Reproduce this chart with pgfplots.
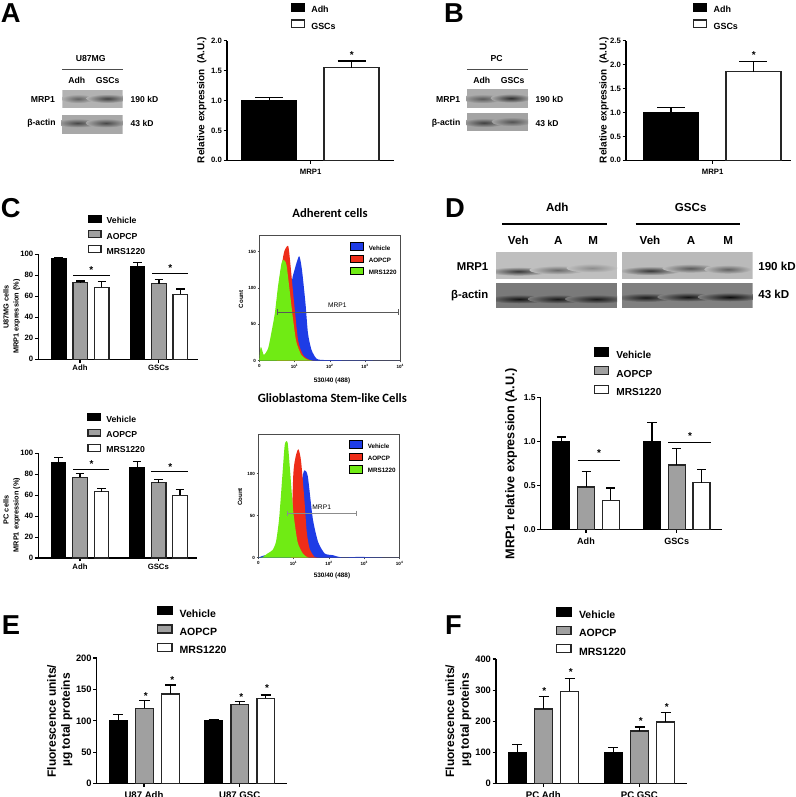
\documentclass[border=0pt]{standalone}
\usepackage{pgfplots}
\pgfplotsset{compat=1.18}
\usepackage{fontspec}
\setmainfont{Liberation Sans}
\newfontfamily\carl{Carlito}
\newcommand\fs[1]{\fontsize{#1}{#1}\selectfont}
\newcommand\bfs[1]{\bfseries\fontsize{#1}{#1}\selectfont}
\newcommand\setax[4]{\def\axL{#1}\def\axR{#2}\def\axT{#3}\def\axB{#4}%
  \pgfmathsetmacro\axW{(#2-#1)*0.75}\pgfmathsetmacro\axH{(#4-#3)*0.75}}
\definecolor{bargray}{RGB}{160,160,160}
\definecolor{hblue}{RGB}{30,60,230}
\definecolor{hred}{RGB}{238,45,25}
\definecolor{hgreen}{RGB}{112,235,20}
\pgfplotsset{
  pxbox/.style={scale only axis,width=\axW pt,height=\axH pt,
    at={(\axL*0.75pt,-\axB*0.75pt)},anchor=south west,clip=false},
  barax/.style n args={3}{pxbox,xmin=\axL,xmax=\axR,ymin=0,
    axis x line=bottom,axis y line=left,
    axis line style={-,line width=1pt,black},
    tick style={black,line width=0.8pt},major tick length=2.6pt,tick align=outside,
    scaled ticks=false,
    ticklabel style={font=\bfs{#1},/pgf/number format/assume math mode=true},
    yticklabel style={inner sep=0pt,xshift=-1pt},
    xticklabel style={inner sep=0pt,yshift=-#2pt},
    /utils/exec={\def\bw{#3}}},
  ser/.style n args={3}{ybar,bar shift=0pt,bar width=#3*0.75pt,fill=#1,draw=#2,line width=1pt,
    error bars/y dir=plus,error bars/y explicit,
    error bars/error bar style={line width=1pt,black},
    error bars/error mark options={rotate=90,mark size=\capsz pt,line width=1pt,black}},
  s1/.style={ser={black}{black}{#1}},
  s2/.style={ser={bargray}{black!85}{#1}},
  s3/.style={ser={white}{black!85}{#1}},
  pxleg/.style n args={7}{
    /utils/exec={\pgfmathsetmacro\legrs{(#3-#5)*0.75-1}\pgfmathsetmacro\legcs{(#6-#1-#4)*0.75}},
    legend style={at={({(#1-\axL)/(\axR-\axL)},{(\axB-(#2-#5/2))/(\axB-\axT)})},
      anchor=north west,draw=none,fill=none,inner sep=0pt,outer sep=0pt,
      row sep=\legrs pt,column sep=\legcs pt,font=\bfs{#7},
      nodes={inner sep=0pt,outer sep=0pt}},
    legend cell align=left,
    legend image code/.code={\draw[##1] (0pt,{0.36*#7pt-#5*0.375pt}) rectangle ({#4*0.75pt},{0.36*#7pt+#5*0.375pt});}},
  hist/.style={pxbox,xmin=0,xmax=4,ymin=0,
    axis line style={line width=0.8pt,black!70},
    tick style={black!70,line width=0.4pt},major tick length=1.3pt,tick align=outside,
    xtick pos=bottom,ytick pos=left,
    xtick={0,1,2,3,4},xticklabels={0,10\textsuperscript{1},10\textsuperscript{2},10\textsuperscript{3},10\textsuperscript{4}},
    ticklabel style={font=\bfs{3.4},/pgf/number format/assume math mode=true,inner sep=1pt}},
  hb/.style={fill=hblue,draw=none,smooth,tension=0.4},
  hr/.style={fill=hred,draw=none,smooth,tension=0.4},
  hg/.style={fill=hgreen,draw=none,smooth,tension=0.4},
  gate/.style={forget plot,mark=|,mark size=2pt,line width=0.6pt,sharp plot,mark options={line width=0.6pt}},
}
\newcommand\blot[6]{\begin{scope}\clip (#1,#2) rectangle (#3,#4);
  \fill[black!#5] (#1,#2) rectangle (#3,#4);\def\blotbg{#5}#6\end{scope}}
\newcommand\band[5][1.7]{\shade[inner color=black!#5,outer color=black!\blotbg]
  ({(#2+#3)/2},#4) ellipse [x radius={#1*(#3-#2)/2},y radius=4.5];}
\newcommand\T[5]{\node[anchor=#1,inner sep=0pt,outer sep=0pt,font=#4] at (#2,#3) {#5};}
\newcommand\sig[3]{\draw[line width=0.9pt,black] (#1,#3) -- (#2,#3);}
\newcommand\starat[2]{\node[anchor=base,inner sep=0pt,font=\bfs{7.5}] at (#1,#2+5) {*};}
\begin{document}
\begin{tikzpicture}
\path[use as bounding box] (0pt,0pt) rectangle (597pt,-597.75pt);
%%%% A
\setax{227}{394}{40.7}{160.3}\def\capsz{10.5}
\begin{axis}[barax={5.8}{4}{55},ymax=2,ytick={0,0.5,1,1.5,2},
  /pgf/number format/.cd,fixed,fixed zerofill,precision=1,/pgfplots/.cd,
  xtick={310.7},xticklabels={MRP1},
  pxleg={291}{6.7}{13.3}{13}{7.5}{310}{6.7}]
\addplot[s1=55] coordinates {(269.2,1.00) +- (0,0.05)};
\addplot[s3=55] coordinates {(351.5,1.55) +- (0,0.11)};
\legend{Adh,GSCs}
\end{axis}
%%%% B
\setax{626}{790.7}{40.7}{160.3}\def\capsz{10.5}
\begin{axis}[barax={5.8}{4}{55},ymax=2.5,ytick={0,0.5,1,1.5,2,2.5},
  /pgf/number format/.cd,fixed,fixed zerofill,precision=1,/pgfplots/.cd,
  xtick={712.7},xticklabels={MRP1},
  pxleg={692.7}{6.7}{13.3}{13}{7.5}{712.3}{6.7}]
\addplot[s1=55] coordinates {(671,1.00) +- (0,0.11)};
\addplot[s3=55] coordinates {(753.4,1.85) +- (0,0.22)};
\legend{Adh,GSCs}
\end{axis}
%%%% C top
\setax{38.3}{198.3}{254.3}{359.3}\def\capsz{3.2}
\begin{axis}[barax={5.8}{1.5}{14.6},ymax=100,ytick={0,20,40,60,80,100},
  xtick={80,158.7},xticklabels={Adh,GSCs},
  pxleg={87.7}{218}{12}{12.5}{6.8}{105.3}{6.5}]
\addplot[s1=14.6] coordinates {(58.7,96) +- (0,1) (137.5,88) +- (0,4)};
\addplot[s2=14.6] coordinates {(80.3,73) +- (0,1.5) (159,72) +- (0,4)};
\addplot[s3=14.6] coordinates {(101.8,68.5) +- (0,5.5) (180.4,62) +- (0,5)};
\legend{Vehicle,AOPCP,MRS1220}
\end{axis}
%%%% C bottom
\setax{38.3}{197.3}{453.3}{558}\def\capsz{3.2}
\begin{axis}[barax={5.8}{1.5}{14.6},ymax=100,ytick={0,20,40,60,80,100},
  xtick={80,158.3},xticklabels={Adh,GSCs},
  pxleg={87.3}{416.7}{12.1}{12.5}{6.8}{105}{6.5}]
\addplot[s1=14.6] coordinates {(58.5,91.5) +- (0,4.5) (137.2,86.5) +- (0,5.5)};
\addplot[s2=14.6] coordinates {(80,77) +- (0,3.5) (158.7,72) +- (0,3)};
\addplot[s3=14.6] coordinates {(101.5,63.5) +- (0,3) (180,60) +- (0,5.5)};
\legend{Vehicle,AOPCP,MRS1220}
\end{axis}
%%%% D
\setax{540.7}{721.7}{397.3}{529.3}\def\capsz{3.4}
\begin{axis}[barax={6.4}{4}{17},ymax=1.5,ytick={0,0.5,1,1.5},
  /pgf/number format/.cd,fixed,fixed zerofill,precision=1,/pgfplots/.cd,
  xtick={586,676.7},xticklabels={Adh,GSCs},
  xticklabel style={font=\bfs{6.8}},
  pxleg={594}{351.3}{15.2}{14}{8}{615}{7.6}]
\addplot[s1=17] coordinates {(561.3,1.00) +- (0,0.05) (652,1.00) +- (0,0.21)};
\addplot[s2=17] coordinates {(586.2,0.48) +- (0,0.18) (676.8,0.73) +- (0,0.19)};
\addplot[s3=17] coordinates {(610.8,0.33) +- (0,0.14) (701.6,0.53) +- (0,0.15)};
\legend{Vehicle,AOPCP,MRS1220}
\end{axis}
%%%% E
\setax{96.7}{287.3}{658}{783.7}\def\capsz{3.8}
\begin{axis}[barax={7}{3}{17.6},ymax=200,ytick={0,50,100,150,200},
  xtick={144,239.7},xticklabels={U87 Adh,U87 GSC},
  xticklabel style={font=\bfs{7.2}},
  pxleg={156.7}{610}{14.4}{14.5}{8}{178.3}{7.9}]
\addplot[s1=17.6] coordinates {(118.2,100) +- (0,10.5) (213.8,100) +- (0,2)};
\addplot[s2=17.6] coordinates {(144.5,120) +- (0,12) (239.8,126) +- (0,5)};
\addplot[s3=17.6] coordinates {(170.5,143) +- (0,14) (265.8,136) +- (0,5)};
\legend{Vehicle,AOPCP,MRS1220}
\end{axis}
%%%% F
\setax{496}{687.3}{659}{783.7}\def\capsz{3.8}
\begin{axis}[barax={7}{3}{18},ymax=400,ytick={0,100,200,300,400},
  xtick={543.3,639.3},xticklabels={PC Adh,PC GSC},
  xticklabel style={font=\bfs{7.2}},
  pxleg={555.7}{611.3}{14.5}{14.5}{8}{577.7}{7.9}]
\addplot[s1=18] coordinates {(517.3,100) +- (0,25) (613.3,100) +- (0,16)};
\addplot[s2=18] coordinates {(543.7,240) +- (0,40) (639.7,169) +- (0,13)};
\addplot[s3=18] coordinates {(569.7,296) +- (0,41) (665.8,198) +- (0,30)};
\legend{Vehicle,AOPCP,MRS1220}
\end{axis}
%%%% histogram 1
\setax{259.3}{400.3}{235.7}{360.7}
\begin{axis}[hist,ymax=172,ytick={0,50,100,150},
  pxleg={349.7}{246.3}{11.5}{13}{7.7}{368.3}{4.7}]
\addplot[hb] coordinates {(0.82,0)(0.91,102)(1.0,125)(1.13,144)(1.21,125)(1.31,79)(1.38,38)(1.48,15)(1.62,3)(1.81,1)(2.66,0.5)(4,0)} \closedcycle;
\addplot[hr] coordinates {(0.5,0)(0.56,102)(0.67,141)(0.72,152)(0.82,158)(0.88,134)(0.98,83)(1.10,28)(1.24,8)(1.43,1)(1.6,0)} \closedcycle;
\addplot[hg] coordinates {(0,0)(0.03,17)(0.06,18)(0.13,8)(0.25,17)(0.34,38)(0.44,65)(0.53,102)(0.63,134)(0.69,139)(0.77,132)(0.86,97)(0.96,56)(1.05,26)(1.19,8)(1.34,2)(1.53,0)} \closedcycle;
\addplot[gate,black!65] coordinates {(0.52,67)(3.95,67)};
\legend{Vehicle,AOPCP,MRS1220}
\end{axis}
%%%% histogram 2
\setax{258.3}{399.7}{434.3}{557.7}
\begin{axis}[hist,ymax=147,ytick={0,50,100},
  pxleg={348.7}{444.3}{11.7}{13}{7.7}{367.3}{4.7}]
\addplot[hb] coordinates {(0,0)(0.11,2)(0.3,4)(0.9,10)(1.21,87)(1.30,104)(1.40,97)(1.54,47)(1.69,19)(1.88,5)(2.11,3)(2.35,0.4)(2.88,1)(3.26,0.4)(4,0)} \closedcycle;
\addplot[hr] coordinates {(0.92,0)(0.99,99)(1.07,123)(1.14,129)(1.21,115)(1.30,71)(1.37,31)(1.45,11)(1.59,1)(1.73,0)} \closedcycle;
\addplot[hg] coordinates {(0,0)(0.11,0.4)(0.26,5)(0.4,9)(0.5,19)(0.59,47)(0.69,103)(0.75,135)(0.83,137)(0.9,103)(0.99,55)(1.11,19)(1.26,5)(1.4,0.4)(1.6,0)} \closedcycle;
\addplot[gate,black!45] coordinates {(0.81,53)(2.77,53)};
\legend{Vehicle,AOPCP,MRS1220}
\end{axis}
%%%% annotations in pixel coordinates
\begin{scope}[x=0.75pt,y=-0.75pt]
% panel letters
\T{base west}{1}{22}{\bfs{20.5}}{A}
\T{base west}{444}{22}{\bfs{20.5}}{B}
\T{base west}{1}{217}{\bfs{20.5}}{C}
\T{base west}{445}{217}{\bfs{20.5}}{D}
\T{base west}{2}{634}{\bfs{20.5}}{E}
\T{base west}{445}{634}{\bfs{20.5}}{F}
% y labels
\T{mid}{0}{0}{\bfs{1}}{}
\node[rotate=90,inner sep=0pt,font=\bfs{7.5}] at (201.7,100) {Relative expression\ \ (A.U.)};
\node[rotate=90,inner sep=0pt,font=\bfs{7.5}] at (604,100) {Relative expression\ \ (A.U.)};
\node[rotate=90,inner sep=0pt,font=\bfs{5.5}] at (6,307) {U87MG cells};
\node[rotate=90,inner sep=0pt,font=\bfs{5.5}] at (16.7,316.7) {MRP1 expression (\%)};
\node[rotate=90,inner sep=0pt,font=\bfs{5.5}] at (6,510) {PC cells};
\node[rotate=90,inner sep=0pt,font=\bfs{5.5}] at (16.7,515) {MRP1 expression (\%)};
\node[rotate=90,inner sep=0pt,font=\bfs{9.5}] at (511,464) {MRP1 relative expression (A.U.)};
\node[rotate=90,inner sep=0pt,font=\bfs{9}] at (51.7,721) {Fluorescence units/};
\node[rotate=90,inner sep=0pt,font=\bfs{9}] at (66.7,720) {µg total proteins};
\node[rotate=90,inner sep=0pt,font=\bfs{9}] at (450,721) {Fluorescence units/};
\node[rotate=90,inner sep=0pt,font=\bfs{9}] at (465.7,720) {µg total proteins};
% stars and significance lines
\starat{351.7}{53.3}\starat{753.7}{53.3}
\sig{73}{109.7}{275.3}\starat{91.3}{268}
\sig{152}{188.3}{273.3}\starat{170.3}{266}
\sig{73}{109.3}{469.3}\starat{91.5}{462.5}
\sig{151.3}{187.7}{471.7}\starat{170.3}{465}
\sig{577.7}{620}{460.3}\starat{599}{451}
\sig{668.3}{710.7}{442.3}\starat{690}{434}
\starat{145.7}{694}\starat{172.3}{678.5}\starat{241.3}{695}\starat{267}{686}
\starat{544.3}{689}\starat{570.7}{670.5}\starat{640.7}{719}\starat{666.7}{705}
% Histogram text
\T{mid}{330}{214}{\carl\bfs{9.5}}{Adherent cells}
\T{mid}{332.3}{399}{\carl\bfs{9.5}}{Glioblastoma Stem-like Cells}
\node[rotate=90,inner sep=0pt,font=\bfs{4.6}] at (241,299.3) {Count};
\T{mid}{332}{379}{\bfs{4.8}}{530/40 (488)}
\T{mid}{337.3}{303.7}{\fs{5}}{MRP1}
\node[rotate=90,inner sep=0pt,font=\bfs{4.6}] at (240,497) {Count};
\T{mid}{332}{574}{\bfs{4.8}}{530/40 (488)}
\T{mid}{321.7}{506}{\fs{5}}{MRP1}
% Blot A
\T{mid}{90.7}{58}{\bfs{6.5}}{U87MG}
\draw[line width=0.7pt,black!70] (62,69)--(122.7,69);
\T{mid}{76.7}{80}{\bfs{6.5}}{Adh}
\T{mid}{107.7}{80}{\bfs{6.5}}{GSCs}
\T{mid east}{55}{98.7}{\bfs{6.5}}{MRP1}
\T{mid east}{55.7}{122}{\bfs{6.5}}{β-actin}
\T{mid west}{130.7}{98.7}{\bfs{6.4}}{190 kD}
\T{mid west}{130.7}{122.7}{\bfs{6.4}}{43 kD}
\blot{62.3}{90}{122.7}{108}{30}{\band{68}{88}{98.7}{62}\band{95}{120}{98.5}{75}}
\blot{61.7}{114.7}{122.7}{133.7}{34}{\band{65}{90}{123}{72}\band{94}{118}{123}{72}}
% Blot B
\T{mid}{496.7}{58}{\bfs{6.5}}{PC}
\draw[line width=0.7pt,black!70] (467,69)--(527.7,69);
\T{mid}{481.7}{80}{\bfs{6.5}}{Adh}
\T{mid}{512.7}{80}{\bfs{6.5}}{GSCs}
\T{mid east}{460.3}{98.7}{\bfs{6.5}}{MRP1}
\T{mid east}{460.3}{122}{\bfs{6.5}}{β-actin}
\T{mid west}{535.7}{98.7}{\bfs{6.4}}{190 kD}
\T{mid west}{535.7}{123}{\bfs{6.4}}{43 kD}
\blot{466.7}{89.3}{528}{107.7}{33}{\band{470}{495}{98.7}{65}\band{499}{523}{98.2}{82}}
\blot{466.7}{113.3}{528}{131}{36}{\band{471}{497}{122.7}{75}\band{500}{524}{121.7}{68}}
% Blot D
\T{mid}{557.3}{207.7}{\bfs{8.7}}{Adh}
\T{mid}{690.7}{207.7}{\bfs{8.7}}{GSCs}
\draw[line width=1pt,black] (502.3,224)--(606.7,224);
\draw[line width=1pt,black] (635.7,224)--(740.3,224);
\T{mid}{518.3}{240.7}{\bfs{8.7}}{Veh}
\T{mid}{558.3}{240.7}{\bfs{8.7}}{A}
\T{mid}{593.3}{240.7}{\bfs{8.7}}{M}
\T{mid}{650}{240.7}{\bfs{8.7}}{Veh}
\T{mid}{691}{240.7}{\bfs{8.7}}{A}
\T{mid}{728.3}{240.7}{\bfs{8.7}}{M}
\T{mid east}{488.3}{267.3}{\bfs{8.5}}{MRP1}
\T{mid east}{488.3}{295.3}{\bfs{8.5}}{β-actin}
\T{mid west}{758.3}{267.3}{\bfs{8.7}}{190 kD}
\T{mid west}{758.3}{295.3}{\bfs{8.7}}{43 kD}
\blot{496}{252.3}{617}{278.7}{25}{\band{500}{537}{271.3}{78}\band{541}{574}{270}{58}\band{577}{607}{268}{45}}
\blot{622}{252.3}{752.7}{278.7}{27}{\band{632}{669}{270.7}{78}\band{674}{707}{268.3}{65}\band{714}{742}{269.3}{62}}
\blot{496}{283}{617}{308.3}{52}{\band{500}{538}{299}{92}\band{540}{575}{299}{90}\band{578}{615}{299}{90}}
\blot{622}{283}{752.7}{308.3}{50}{\band{628}{664}{297.5}{90}\band{670}{706}{297}{92}\band{711}{749}{297}{95}}
\end{scope}
\end{tikzpicture}
\end{document}
